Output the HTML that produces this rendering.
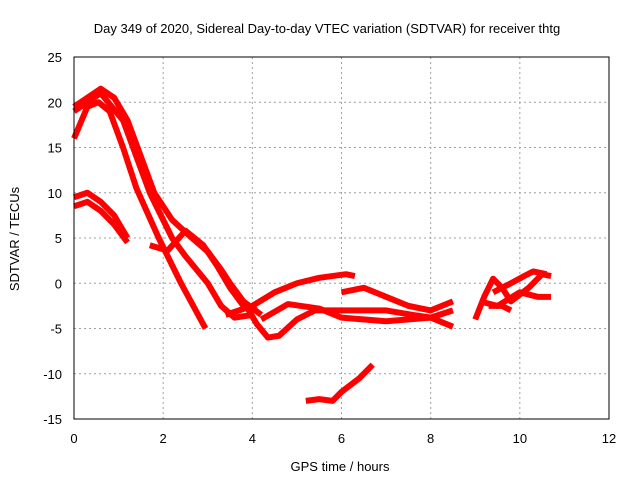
<!DOCTYPE html>
<html><head><meta charset="utf-8"><style>
body{margin:0;background:#fff;font-family:"Liberation Sans",sans-serif}
svg text{font-family:"Liberation Sans",sans-serif;font-size:13px;fill:#000}
</style></head><body>
<svg id="c" width="640" height="480">
<text x="327" y="33" text-anchor="middle" style="font-size:13px">Day 349 of 2020, Sidereal Day-to-day VTEC variation (SDTVAR) for receiver thtg</text>
<text x="340" y="471" text-anchor="middle" style="font-size:13px">GPS time / hours</text>
<text transform="translate(19,239) rotate(-90)" text-anchor="middle" style="font-size:13px">SDTVAR / TECUs</text>
<g id="grid"></g><g id="series"></g>
<rect x="74" y="57" width="535" height="362" fill="none" stroke="#000" stroke-width="1"/>
</svg>
<script>
const xTicks=[0,2,4,6,8,10,12];
const yTicks=[25,20,15,10,5,0,-5,-10,-15];
const s1=[[0,16],[0.3,19.5],[0.55,20],[0.8,19],[1.1,15],[1.4,10.5],[1.9,5],[2.4,0],[2.95,-5]];
const s2=[[0,19.5],[0.3,20.5],[0.6,21.5],[0.9,20.5],[1.2,18],[1.5,14],[1.8,10],[2.2,7],[2.6,5.2],[3,3.5],[3.3,1.5],[3.5,0],[3.8,-2],[4.2,-3.5]];
const s3=[[0,19],[0.6,21],[1.1,18],[1.4,14],[1.7,10],[2.2,5],[2.5,3],[3,0],[3.3,-2.5],[3.6,-3.8],[4,-3.5]];
const s4=[[0,8.5],[0.3,9],[0.6,8],[0.9,6.5],[1.2,4.5]];
const s5=[[0,9.5],[0.3,10],[0.6,9],[0.9,7.5],[1.2,5]];
const s6=[[3.8,-2],[4.1,-4.5],[4.35,-6],[4.6,-5.8],[5,-4],[5.4,-3],[6,-3],[7,-3],[7.6,-3.5],[8,-3.8],[8.5,-4.8]];
const s7=[[1.7,4.2],[2.1,3.6],[2.5,5.8],[2.9,4.2],[3.2,2],[3.5,-0.5],[3.8,-2.5],[4.1,-3]];
const s8=[[3.4,-3.5],[4,-2.5],[4.5,-1],[5,0],[5.5,0.6],[6.1,1],[6.3,0.8]];
const s9=[[6,-1],[6.5,-0.5],[7,-1.5],[7.5,-2.5],[8,-3],[8.5,-2]];
const s10=[[4.2,-4],[4.8,-2.3],[5.5,-2.8],[6,-3.8],[7,-4.2],[8,-3.8],[8.5,-3]];
const s11=[[5.2,-13],[5.5,-12.8],[5.8,-13],[6,-12],[6.4,-10.5],[6.7,-9]];
const s12=[[9,-4],[9.2,-1.5],[9.4,0.5],[9.6,-0.5],[9.8,-2],[10.2,-0.5],[10.5,1],[10.7,0.8]];
const s13=[[9.1,-2],[9.5,-2.5],[10,-1],[10.4,-1.5],[10.7,-1.5]];
const s14=[[9.3,-2.5],[9.6,-2.5],[9.8,-3]];
const s15=[[9.4,-1],[9.8,0],[10.1,0.8],[10.3,1.3],[10.6,1]];
const allSeries=[s1,s2,s3,s4,s5,s6,s7,s8,s9,s10,s11,s12,s13,s14,s15];
const X=v=>74+v*(535/12), Y=v=>57+(25-v)*(362/40);
const ns="http://www.w3.org/2000/svg";
const g=document.getElementById('grid'), sg=document.getElementById('series');
function mk(t,a,p){const e=document.createElementNS(ns,t);for(const k in a)e.setAttribute(k,a[k]);p.appendChild(e);return e;}
xTicks.forEach(t=>{
 if(t>0&&t<12){const l=mk('line',{x1:X(t),x2:X(t),y1:57,y2:419,stroke:'#a0a0a0','stroke-dasharray':'2,3'},g);
 
 }
 const tx=mk('text',{x:X(t),y:443,'text-anchor':'middle'},g);tx.textContent=t;
 
 
});
yTicks.forEach(t=>{
 if(t<25&&t>-15){const l=mk('line',{x1:74,x2:609,y1:Y(t),y2:Y(t),stroke:'#a0a0a0','stroke-dasharray':'2,3'},g);
 
 }
 const tx=mk('text',{x:62,y:Y(t)+5,'text-anchor':'end'},g);tx.textContent=t;
 
 
});
allSeries.forEach((s,i)=>{
 const p=mk('polyline',{points:s.map(d=>X(d[0])+','+Y(d[1])).join(' '),fill:'none',stroke:'#ff0000','stroke-width':6,'stroke-linejoin':'round'},sg);
 
 
});
</script>
</body></html>
